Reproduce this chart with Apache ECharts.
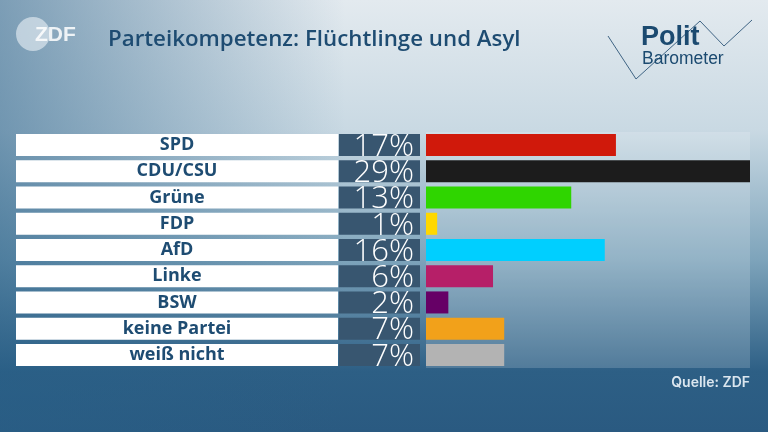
<!DOCTYPE html>
<html lang="de">
<head>
  <meta charset="UTF-8" />
  <title>Parteikompetenz: Flüchtlinge und Asyl</title>
  <script src="https://cdn.jsdelivr.net/npm/echarts@6.0.0/dist/echarts.min.js"></script>
  <style>
    html, body { margin: 0; padding: 0; }
  </style>
</head>
<body>
  <div id="main" style="width:768px; height:432px;"></div>
  <script type="text/javascript">
    // Daten
    var parteien = ['SPD', 'CDU/CSU', 'Grüne', 'FDP', 'AfD', 'Linke', 'BSW', 'keine Partei', 'weiß nicht'];
    var werte = [17, 29, 13, 1, 16, 6, 2, 7, 7];
    var farben = ['#d0190b', '#1c1c1c', '#2fd500', '#ffd800', '#00cfff', '#b61f68', '#660066', '#f2a11a', '#b3b3b3'];

    var top0 = 132, hoehe = 236;
    var ones = parteien.map(function () { return 1; });

    var chart = echarts.init(document.getElementById('main'));

    function grid(left, width, bg) {
      return { left: left, width: width, top: top0, height: hoehe, show: !!bg, backgroundColor: bg || 'transparent', borderWidth: 0 };
    }
    function yAchse(i) {
      return { type: 'category', gridIndex: i, data: parteien, inverse: true, show: false };
    }
    function xAchse(i, max) {
      return { type: 'value', gridIndex: i, min: 0, max: max, show: false };
    }

    chart.setOption({
      animation: false,
      backgroundColor: {
        type: 'linear', x: 0, y: 0, x2: 0, y2: 1,
        colorStops: [
          { offset: 0, color: '#e3eaef' },
          { offset: 0.3, color: '#c9d9e3' },
          { offset: 0.6, color: '#7ea4bb' },
          { offset: 0.86, color: '#2d5f85' },
          { offset: 1, color: '#2a5a81' }
        ]
      },
      graphic: [
        {
          type: 'rect', z: -1, silent: true,
          shape: { x: 0, y: 0, width: 768, height: 432 },
          style: {
            fill: {
              type: 'linear', x: 0, y: 0, x2: 1, y2: 0,
              colorStops: [
                { offset: 0, color: 'rgba(40,95,135,0.55)' },
                { offset: 0.45, color: 'rgba(40,95,135,0)' },
                { offset: 1, color: 'rgba(40,95,135,0)' }
              ]
            }
          }
        },
        // ZDF Logo
        { type: 'circle', shape: { cx: 33, cy: 34, r: 17 }, style: { fill: 'rgba(235,242,247,0.6)' } },
        { type: 'text', left: 35, top: 25, style: { text: 'ZDF', fill: 'rgba(255,255,255,0.85)', font: 'bold 21px "Liberation Sans"' } },
        // Titel
        { type: 'text', left: 108, top: 29, style: { text: 'Parteikompetenz: Flüchtlinge und Asyl', fill: '#1e4c72', font: '600 22.3px "Open Sans"' } },
        // Politbarometer Logo
        {
          type: 'polyline',
          shape: { points: [[608, 36], [636, 79], [700, 21], [724, 46], [752, 20]] },
          style: { stroke: '#3f6484', lineWidth: 1, fill: null }
        },
        { type: 'text', left: 641, top: 24, style: { text: 'Polit', fill: '#1b4a70', font: 'bold 27px "Liberation Sans"' } },
        { type: 'text', left: 642, top: 50, style: { text: 'Barometer', fill: '#1b4a70', font: '17.5px "Liberation Sans"' } },
        // Quelle
        { type: 'text', right: 18, top: 376, style: { text: 'Quelle: ZDF', fill: '#dbe6ef', font: '600 14px Inter' } }
      ],
      grid: [
        grid(16, 322),
        grid(339, 81),
        grid(426, 324, 'rgba(255,255,255,0.17)')
      ],
      xAxis: [xAchse(0, 1), xAchse(1, 1), xAchse(2, 29)],
      yAxis: [yAchse(0), yAchse(1), yAchse(2)],
      series: [
        {
          type: 'bar', xAxisIndex: 0, yAxisIndex: 0, data: ones,
          barCategoryGap: '16%',
          itemStyle: { color: '#ffffff' },
          label: {
            show: true, position: 'inside',
            formatter: function (p) { return p.name; },
            color: '#1e4c72', fontFamily: '"Open Sans"', fontWeight: 700, fontSize: 18
          }
        },
        {
          type: 'bar', xAxisIndex: 1, yAxisIndex: 1, data: ones,
          barCategoryGap: '16%',
          itemStyle: { color: '#385670' },
          label: {
            show: true, position: 'insideRight', distance: 6, offset: [0, 2],
            formatter: function (p) { return werte[p.dataIndex] + '%'; },
            color: '#ffffff', fontFamily: '"Open Sans"', fontWeight: 300, fontSize: 31
          }
        },
        {
          type: 'bar', xAxisIndex: 2, yAxisIndex: 2,
          barCategoryGap: '16%',
          data: werte.map(function (v, i) { return { value: v, itemStyle: { color: farben[i] } }; })
        }
      ]
    });
  </script>
</body>
</html>
